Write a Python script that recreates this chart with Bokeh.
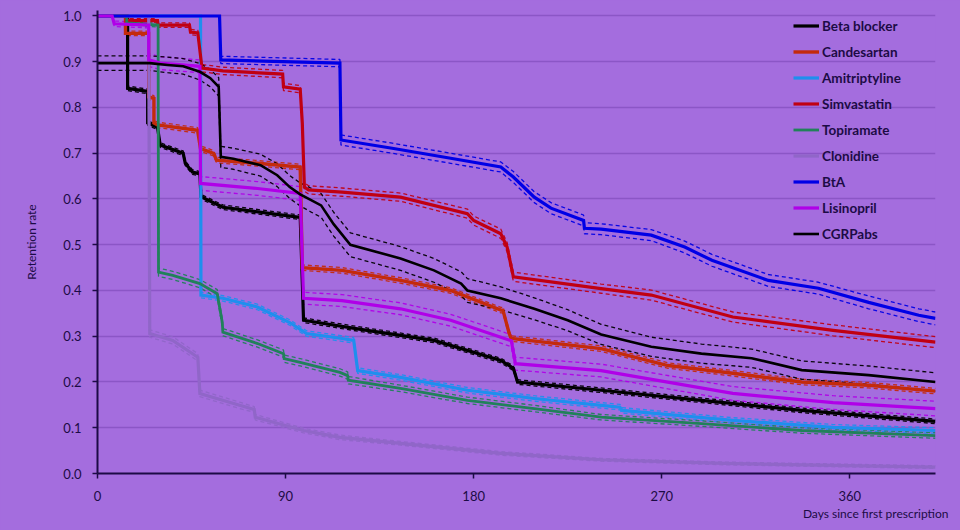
from bokeh.plotting import figure
from bokeh.models import Range1d, FixedTicker, NumeralTickFormatter, Legend, LegendItem, Title
from bokeh.embed import file_html
from bokeh.resources import INLINE

# ---------------- data ----------------
x_ticks = [0, 90, 180, 270, 360]
y_ticks = [0.0, 0.1, 0.2, 0.3, 0.4, 0.5, 0.6, 0.7, 0.8, 0.9, 1.0]

beta_days = [0, 14.4, 14.4, 24, 24, 28.7, 30, 41, 42, 45.4, 49, 49.5, 60, 97, 98.6, 129, 161, 193, 199, 201, 241, 289, 337, 401]
beta_vals = [1.0, 1.0, 0.842, 0.835, 0.766, 0.757, 0.718, 0.70, 0.678, 0.659, 0.655, 0.605, 0.582, 0.56, 0.335, 0.313, 0.291, 0.247, 0.23, 0.2, 0.182, 0.16, 0.138, 0.114]
beta_ci = [0.0, 0.0, 0.005, 0.005, 0.005, 0.005, 0.005, 0.005, 0.005, 0.005, 0.005, 0.005, 0.005, 0.005, 0.005, 0.005, 0.005, 0.005, 0.005, 0.005, 0.005, 0.005, 0.005, 0.005]

cande_days = [0, 13.4, 13.4, 24.5, 24.5, 27, 27, 28.7, 47.9, 49.3, 55.5, 57, 76.6, 97, 98, 117, 145, 169, 193, 194, 197, 198, 241, 273, 304, 337, 369, 401]
cande_vals = [1.0, 1.0, 0.962, 0.962, 0.823, 0.82, 0.766, 0.762, 0.75, 0.71, 0.70, 0.685, 0.678, 0.67, 0.45, 0.444, 0.422, 0.40, 0.357, 0.357, 0.306, 0.295, 0.273, 0.236, 0.219, 0.20, 0.193, 0.18]
cande_ci = [0.0, 0.0, 0.005, 0.005, 0.006, 0.006, 0.006, 0.006, 0.006, 0.006, 0.006, 0.006, 0.006, 0.006, 0.006, 0.006, 0.006, 0.006, 0.006, 0.006, 0.006, 0.006, 0.006, 0.006, 0.006, 0.006, 0.006, 0.006]

amit_days = [0, 49.3, 49.5, 60, 76.5, 92, 100, 117, 122.6, 124.5, 145, 177, 209, 241, 250, 251, 304, 352, 401]
amit_vals = [1.0, 1.0, 0.39, 0.383, 0.364, 0.33, 0.306, 0.295, 0.291, 0.225, 0.21, 0.182, 0.164, 0.149, 0.145, 0.138, 0.116, 0.101, 0.094]
amit_ci = [0.0, 0.0, 0.006, 0.006, 0.006, 0.006, 0.006, 0.006, 0.006, 0.006, 0.006, 0.006, 0.006, 0.006, 0.006, 0.006, 0.006, 0.006, 0.006]

simva_days = [0, 14, 14, 28.7, 29, 44, 44.5, 48, 50, 60, 88.6, 89, 97, 98, 99, 101, 117, 145, 177, 180, 193, 196, 199, 241, 265, 304, 352, 401]
simva_vals = [1.0, 1.0, 0.99, 0.99, 0.98, 0.98, 0.965, 0.963, 0.886, 0.88, 0.873, 0.845, 0.84, 0.766, 0.626, 0.62, 0.615, 0.604, 0.568, 0.553, 0.524, 0.495, 0.43, 0.404, 0.39, 0.342, 0.313, 0.287]
simva_ci = [0.0, 0.0, 0.004, 0.004, 0.005, 0.005, 0.006, 0.006, 0.008, 0.008, 0.008, 0.008, 0.008, 0.008, 0.009, 0.009, 0.009, 0.009, 0.01, 0.01, 0.01, 0.01, 0.01, 0.01, 0.011, 0.011, 0.012, 0.012]

topi_days = [0, 14, 14, 29, 29.2, 36, 49, 57.3, 59.7, 60, 76.6, 89, 89.3, 97, 116, 119.7, 120, 145, 177, 209, 241, 289, 337, 401]
topi_vals = [1.0, 1.0, 0.985, 0.98, 0.44, 0.433, 0.415, 0.393, 0.33, 0.309, 0.284, 0.262, 0.251, 0.243, 0.221, 0.214, 0.204, 0.186, 0.16, 0.142, 0.123, 0.109, 0.094, 0.083]
topi_ci = [0.0, 0.0, 0.004, 0.004, 0.009, 0.009, 0.009, 0.009, 0.009, 0.008, 0.008, 0.008, 0.008, 0.008, 0.008, 0.008, 0.008, 0.007, 0.007, 0.007, 0.006, 0.006, 0.006, 0.006]

cloni_days = [0, 24.5, 25, 36, 48, 49, 68, 75, 75.5, 98.6, 116, 145, 193, 241, 300, 401]
cloni_vals = [1.0, 1.0, 0.306, 0.291, 0.254, 0.175, 0.149, 0.14, 0.123, 0.094, 0.079, 0.066, 0.044, 0.03, 0.022, 0.014]
cloni_ci = [0.0, 0.0, 0.008, 0.008, 0.008, 0.007, 0.007, 0.006, 0.006, 0.005, 0.005, 0.004, 0.004, 0.003, 0.003, 0.003]

bta_days = [0, 58.4, 59, 116, 116.5, 141, 169, 193, 199, 209, 217, 232.6, 233, 241, 265, 281, 294, 321, 345, 369, 393, 401]
bta_vals = [1.0, 1.0, 0.904, 0.897, 0.729, 0.711, 0.689, 0.67, 0.648, 0.604, 0.58, 0.553, 0.536, 0.534, 0.521, 0.495, 0.466, 0.422, 0.405, 0.374, 0.346, 0.339]
bta_ci = [0.0, 0.0, 0.008, 0.008, 0.011, 0.011, 0.011, 0.011, 0.012, 0.012, 0.012, 0.012, 0.012, 0.012, 0.012, 0.013, 0.013, 0.013, 0.013, 0.014, 0.014, 0.014]

lisi_days = [0, 7, 8, 24.5, 24.5, 30, 49, 49.3, 76.6, 97, 98.6, 117, 145, 169, 193, 198, 200, 241, 304, 352, 401]
lisi_vals = [1.0, 1.0, 0.983, 0.98, 0.904, 0.897, 0.89, 0.634, 0.623, 0.612, 0.383, 0.378, 0.36, 0.335, 0.298, 0.29, 0.24, 0.225, 0.175, 0.155, 0.142]
lisi_ci = [0.0, 0.0, 0.006, 0.006, 0.014, 0.014, 0.014, 0.015, 0.015, 0.015, 0.013, 0.013, 0.013, 0.013, 0.013, 0.013, 0.014, 0.014, 0.015, 0.015, 0.016]

cgrp_days = [0, 25, 33.5, 41, 49, 54, 58, 59, 65, 78, 86, 92, 97, 102, 107, 113, 121, 145, 161, 174, 177, 193, 209, 225, 241, 265, 289, 313, 337, 369, 401]
cgrp_vals = [0.897, 0.897, 0.893, 0.89, 0.878, 0.864, 0.845, 0.692, 0.688, 0.674, 0.652, 0.626, 0.61, 0.598, 0.586, 0.545, 0.50, 0.47, 0.444, 0.415, 0.40, 0.383, 0.36, 0.335, 0.304, 0.277, 0.262, 0.252, 0.226, 0.215, 0.20]
cgrp_ci = [0.016, 0.016, 0.017, 0.017, 0.018, 0.019, 0.02, 0.023, 0.023, 0.024, 0.025, 0.025, 0.025, 0.026, 0.026, 0.026, 0.026, 0.026, 0.026, 0.026, 0.026, 0.025, 0.024, 0.023, 0.022, 0.021, 0.021, 0.02, 0.02, 0.02, 0.02]

series_names = ["Beta blocker", "Candesartan", "Amitriptyline", "Simvastatin", "Topiramate",
                "Clonidine", "BtA", "Lisinopril", "CGRPabs"]

# ---------------- styling ----------------
BG = "#A46DDE"
GRID = "#8B56C6"
INK = "#1C0B45"
FONT = "Lato"

series = [
    ("Beta blocker", beta_days, beta_vals, beta_ci, "#000000", 3.2),
    ("Candesartan", cande_days, cande_vals, cande_ci, "#C42A0C", 3.4),
    ("Amitriptyline", amit_days, amit_vals, amit_ci, "#1E8FEE", 3.2),
    ("Simvastatin", simva_days, simva_vals, simva_ci, "#C00012", 3.2),
    ("Topiramate", topi_days, topi_vals, topi_ci, "#21815A", 2.8),
    ("Clonidine", cloni_days, cloni_vals, cloni_ci, "#9066C8", 3.2),
    ("BtA", bta_days, bta_vals, bta_ci, "#0000E6", 3.2),
    ("Lisinopril", lisi_days, lisi_vals, lisi_ci, "#B000E8", 3.2),
    ("CGRPabs", cgrp_days, cgrp_vals, cgrp_ci, "#000000", 2.6),
]

p = figure(width=960, height=530, output_backend="svg", toolbar_location=None,
           x_range=Range1d(0, 401), y_range=Range1d(0, 1.012),
           min_border_left=97, min_border_right=25, min_border_top=10, min_border_bottom=57)

p.background_fill_color = BG
p.border_fill_color = BG
p.outline_line_color = None

p.xgrid.visible = False
p.ygrid.grid_line_color = GRID
p.ygrid.grid_line_width = 1.5
p.ygrid.ticker = FixedTicker(ticks=y_ticks)

for ax in (p.xaxis[0], p.yaxis[0]):
    ax.axis_line_color = INK
    ax.axis_line_width = 2
    ax.major_tick_line_color = INK
    ax.major_tick_line_width = 1.5
    ax.major_tick_in = 0
    ax.major_tick_out = 5
    ax.minor_tick_line_color = None
    ax.major_label_text_font = FONT
    ax.major_label_text_font_size = "13px"
    ax.major_label_text_color = INK
    ax.axis_label_text_font = FONT
    ax.axis_label_text_font_style = "normal"
    ax.axis_label_text_color = INK

p.xaxis.ticker = FixedTicker(ticks=x_ticks)
p.xaxis.major_label_standoff = 12
p.yaxis.ticker = FixedTicker(ticks=y_ticks)
p.yaxis.formatter = NumeralTickFormatter(format="0.0")
p.yaxis.major_label_standoff = 11
p.yaxis.axis_label = "Retention rate"
p.yaxis.axis_label_text_font_size = "12px"
p.yaxis.axis_label_standoff = 21

# dashed confidence limits first
for name, d, v, ci, col, lw in series:
    hi = [a + b for a, b in zip(v, ci)]
    lo = [a - b for a, b in zip(v, ci)]
    for band in (hi, lo):
        p.line(d, band, line_color=col, line_width=1.3, line_dash="4 3", line_alpha=0.95)

renderers = {}
for name, d, v, ci, col, lw in series:
    renderers[name] = p.line(d, v, line_color=col, line_width=lw, line_join="miter")

legend = Legend(items=[LegendItem(label=n, renderers=[renderers[n]]) for n in series_names],
                location=(696, 230), padding=0, margin=0, spacing=7,
                glyph_width=26, glyph_height=19, label_height=19, label_standoff=3,
                border_line_color=None, background_fill_alpha=0,
                label_text_font=FONT, label_text_font_style="bold",
                label_text_font_size="13.5px", label_text_color=INK)
p.add_layout(legend)

xtitle = Title(text="Days since first prescription", align="right", offset=-13,
               text_font=FONT, text_font_size="12px", text_font_style="normal",
               text_color=INK, standoff=0)
p.add_layout(xtitle, "below")

html = file_html(p, INLINE)
html = html.replace("</head>", "<style>html,body{background:%s;}</style></head>" % BG, 1)
open("out.html", "w").write(html)
